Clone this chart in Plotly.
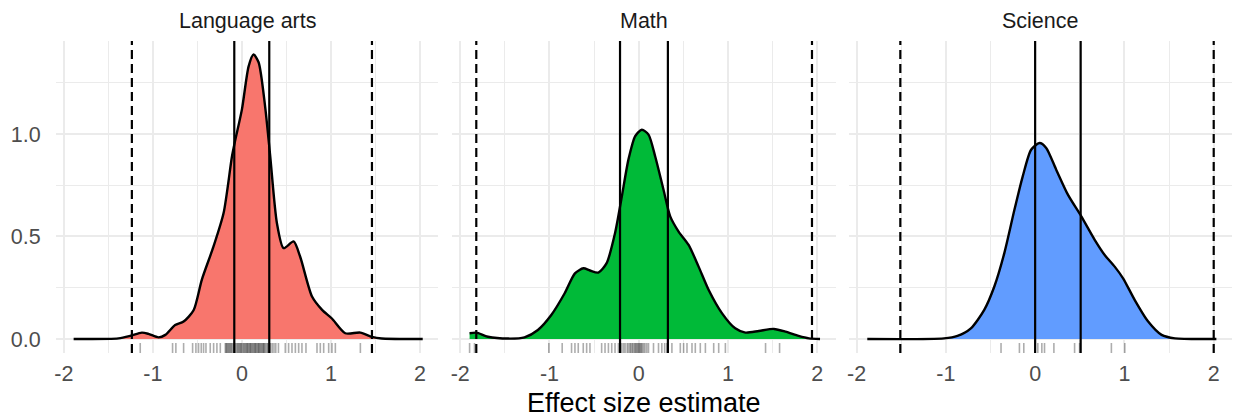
import plotly.graph_objects as go

# ---------------- data ----------------
subjects = ["Language arts", "Math", "Science"]
fill_colors = ["#F8766D", "#00BA38", "#619CFF"]

# density curves
la_x = [-1.89, -1.386, -1.255, -1.124, -1.05, -0.936, -0.86, -0.75, -0.655, -0.543, -0.45, -0.32,
        -0.206, -0.112, -0.075, 0.0, 0.075, 0.13, 0.187, 0.26, 0.318, 0.393, 0.468, 0.58, 0.655,
        0.787, 0.9, 1.01, 1.16, 1.33, 1.46, 1.57, 2.03]
la_y = [0.0, 0.003, 0.015, 0.031, 0.025, 0.008, 0.02, 0.068, 0.085, 0.14, 0.29, 0.45,
        0.614, 0.89, 0.97, 1.12, 1.33, 1.388, 1.35, 1.135, 0.89, 0.565, 0.443, 0.476, 0.40,
        0.207, 0.142, 0.10, 0.028, 0.031, 0.01, 0.002, 0.0]

ma_x = [-1.895, -1.82, -1.69, -1.46, -1.28, -1.13, -0.98, -0.83, -0.715, -0.62, -0.547, -0.453,
        -0.36, -0.266, -0.19, -0.116, -0.04, 0.034, 0.109, 0.184, 0.277, 0.352, 0.446, 0.558,
        0.67, 0.783, 0.933, 1.08, 1.195, 1.345, 1.513, 1.644, 1.79, 1.906, 2.03]
ma_y = [0.028, 0.031, 0.011, 0.002, 0.008, 0.044, 0.117, 0.223, 0.32, 0.345, 0.334, 0.324,
        0.37, 0.516, 0.695, 0.875, 0.99, 1.021, 0.997, 0.89, 0.728, 0.598, 0.524, 0.459,
        0.353, 0.239, 0.125, 0.052, 0.031, 0.039, 0.049, 0.036, 0.015, 0.003, 0.0]

sc_x = [-1.88, -1.02, -0.87, -0.72, -0.57, -0.457, -0.345, -0.232, -0.139, -0.045, 0.049, 0.124,
        0.236, 0.367, 0.517, 0.667, 0.779, 0.891, 0.985, 1.116, 1.266, 1.416, 1.566, 2.03]
sc_y = [0.0, 0.003, 0.015, 0.052, 0.142, 0.256, 0.419, 0.63, 0.793, 0.923, 0.956, 0.932,
        0.826, 0.704, 0.598, 0.484, 0.41, 0.353, 0.296, 0.19, 0.085, 0.02, 0.003, 0.0]

# rug (individual estimates)
la_rug = [-1.142, -0.779, -0.742, -0.655, -0.554, -0.517, -0.487, -0.457, -0.431, -0.404, -0.356,
          -0.318, -0.281, -0.243, -0.187, -0.178, -0.17, -0.16, -0.15, -0.14, -0.13, -0.12,
          -0.11, -0.095, -0.085, -0.075, -0.06, -0.05, -0.04, -0.03, -0.02, -0.01, -0.005,
          0.01, 0.02, 0.03, 0.04, 0.05, 0.058, 0.065, 0.075, 0.085, 0.093, 0.1, 0.11, 0.12,
          0.13, 0.14, 0.148, 0.155, 0.165, 0.175, 0.185, 0.19, 0.2, 0.21, 0.22, 0.23, 0.24,
          0.245, 0.255, 0.265, 0.28, 0.29, 0.3, 0.31, 0.32, 0.34, 0.36, 0.38, 0.41, 0.487,
          0.524, 0.562, 0.6, 0.637, 0.674, 0.719, 0.843, 0.88, 0.918, 0.974, 1.011, 1.049, 1.33]
ma_rug = [-1.895, -1.84, -1.007, -0.858, -0.753, -0.715, -0.678, -0.622, -0.584, -0.547, -0.416,
          -0.378, -0.34, -0.303, -0.266, -0.228, -0.19, -0.17, -0.153, -0.13, -0.116, -0.1,
          -0.09, -0.075, -0.065, -0.05, -0.04, -0.03, -0.02, -0.01, 0.0, 0.01, 0.02, 0.03,
          0.04, 0.055, 0.07, 0.09, 0.109, 0.165, 0.221, 0.258, 0.29, 0.315, 0.371, 0.465,
          0.502, 0.54, 0.596, 0.633, 0.689, 0.746, 0.839, 0.895, 0.97, 1.42, 1.577]
sc_rug = [-0.382, -0.176, -0.127, 0.03, 0.075, 0.105, 0.21, 0.442, 0.498, 0.854, 1.004]

# interval lines: solid = confidence interval, dashed = prediction interval
la_ci, la_pi = [-0.086, 0.307], [-1.236, 1.46]
ma_ci, ma_pi = [-0.21, 0.326], [-1.82, 1.94]
sc_ci, sc_pi = [0.0, 0.51], [-1.51, 2.0]

x_ticks = [-2, -1, 0, 1, 2]
x_ticklabels = ["-2", "-1", "0", "1", "2"]
x_minor = [-1.5, -0.5, 0.5, 1.5]
y_ticks = [0.0, 0.5, 1.0]
y_ticklabels = ["0.0", "0.5", "1.0"]
y_minor = [0.25, 0.75, 1.25]

x_title = "Effect size estimate"

# ---------------- figure ----------------
W, H = 1235, 418
panels_px = [(54, 437), (451, 835), (848, 1232)]
top_px, bot_px = 41, 353
x_range = [-2.089, 2.205]
y_range = [-0.0684, 1.4536]
grid = "#EBEBEB"
FONT = "Liberation Sans, Arial, sans-serif"

series = [(la_x, la_y, la_rug, la_ci, la_pi),
          (ma_x, ma_y, ma_rug, ma_ci, ma_pi),
          (sc_x, sc_y, sc_rug, sc_ci, sc_pi)]

fig = go.Figure()
shapes = []
annotations = []
for i, (dx, dy, rug, ci, pi) in enumerate(series):
    sfx = "" if i == 0 else str(i + 1)
    xa, ya = "x" + sfx, "y" + sfx
    fig.add_trace(go.Scatter(
        x=dx, y=dy, xaxis=xa, yaxis=ya, mode="lines",
        line=dict(color="black", width=2.4, shape="spline", smoothing=0.7),
        fill="tozeroy", fillcolor=fill_colors[i], hoverinfo="skip", showlegend=False))
    for v in rug:
        shapes.append(dict(type="line", xref=xa, yref=ya + " domain", x0=v, x1=v, y0=0, y1=0.032,
                           line=dict(color="rgba(0,0,0,0.32)", width=1.6), layer="above"))
    for v in ci:
        shapes.append(dict(type="line", xref=xa, yref=ya + " domain", x0=v, x1=v, y0=0, y1=1,
                           line=dict(color="black", width=2.2), layer="above"))
    for v in pi:
        shapes.append(dict(type="line", xref=xa, yref=ya + " domain", x0=v, x1=v, y0=0, y1=1,
                           line=dict(color="black", width=2.2, dash="9px,5px"), layer="above"))
    l, r = panels_px[i]
    annotations.append(dict(text=subjects[i], xref="paper", yref="paper",
                            x=(l + r) / 2 / W, y=1 - 21 / H, xanchor="center", yanchor="middle",
                            showarrow=False, font=dict(family=FONT, size=21.5, color="#1A1A1A")))

    xaxis = dict(domain=[l / W, r / W], range=x_range, tickmode="array", tickvals=x_ticks,
                 ticktext=x_ticklabels, showgrid=True, gridcolor=grid, gridwidth=2,
                 minor=dict(tickvals=x_minor, showgrid=True, gridcolor=grid, gridwidth=1),
                 zeroline=False, showline=False, ticks="outside", ticklen=1,
                 tickcolor="rgba(0,0,0,0)", anchor=ya,
                 tickfont=dict(family=FONT, size=21.5, color="#4D4D4D"), fixedrange=True)
    yaxis = dict(domain=[1 - bot_px / H, 1 - top_px / H], range=y_range, tickmode="array",
                 tickvals=y_ticks, ticktext=y_ticklabels if i == 0 else ["", "", ""],
                 showticklabels=(i == 0), showgrid=True, gridcolor=grid, gridwidth=2,
                 minor=dict(tickvals=y_minor, showgrid=True, gridcolor=grid, gridwidth=1),
                 zeroline=False, showline=False, ticks="outside" if i == 0 else "", ticklen=10,
                 tickcolor="rgba(0,0,0,0)", anchor=xa,
                 tickfont=dict(family=FONT, size=21.5, color="#4D4D4D"), fixedrange=True)
    fig.update_layout(**{"xaxis" + sfx: xaxis, "yaxis" + sfx: yaxis})

annotations.append(dict(text=x_title, xref="paper", yref="paper",
                        x=(panels_px[0][0] + panels_px[2][1]) / 2 / W, y=1 - 403 / H,
                        xanchor="center", yanchor="middle", showarrow=False,
                        font=dict(family=FONT, size=27, color="black")))

fig.update_layout(width=W, height=H, margin=dict(l=0, r=0, t=0, b=0),
                  paper_bgcolor="white", plot_bgcolor="white",
                  shapes=shapes, annotations=annotations, showlegend=False)

fig.write_html("out.html", config={"displayModeBar": False})
